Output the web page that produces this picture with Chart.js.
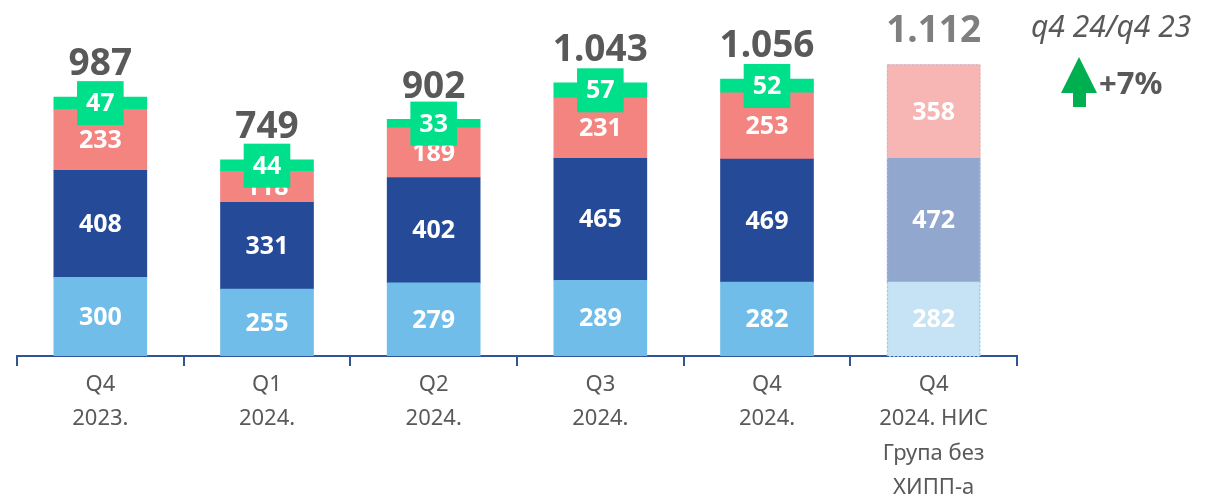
<!DOCTYPE html>
<html>
<head>
<meta charset="utf-8">
<script src="https://cdn.jsdelivr.net/npm/chart.js@4"></script>
<style>
  html, body { margin: 0; padding: 0; background: #fff; }
  #wrap { width: 1220px; height: 497px; position: relative; }
</style>
</head>
<body>
<div id="wrap"><canvas id="c"></canvas></div>
<script>
// quarters on the x axis (multi-line labels)
const categories = [
  ['Q4', '2023.'],
  ['Q1', '2024.'],
  ['Q2', '2024.'],
  ['Q3', '2024.'],
  ['Q4', '2024.'],
  ['Q4', '2024. НИС', 'Група без', 'ХИПП-а'],
];
const lightBlue = [300, 255, 279, 289, 282, 282];
const darkBlue = [408, 331, 402, 465, 469, 472];
const salmon = [233, 118, 189, 231, 253, 358];
const green = [47, 44, 33, 57, 52, null];
const totals = [987, 749, 902, 1043, 1056, 1112];
const compareLabel = 'q4 24/q4 23';
const compareValue = '+7%';

const FONT = '"Noto Sans", "Open Sans", sans-serif';
const fade = (full, pale) => categories.map((_, i) => i === categories.length - 1 ? pale : full);
const fmt = (n) => String(n).replace(/\B(?=(\d{3})+(?!\d))/g, '.');

// segment values, green badges, totals and the q4/q4 note
const labelsPlugin = {
  id: 'labels',
  afterDatasetsDraw(chart) {
    const { ctx } = chart;
    const y = chart.scales.y;
    ctx.save();
    ctx.textAlign = 'center';
    ctx.textBaseline = 'middle';

    chart.data.datasets.forEach((ds, di) => {
      const meta = chart.getDatasetMeta(di);
      meta.data.forEach((bar, i) => {
        const v = ds.data[i];
        if (v == null) return;
        const cy = (bar.y + bar.base) / 2;
        ctx.font = `bold 25px ${FONT}`;
        if (ds.badge) {
          const w = ctx.measureText(String(v)).width + 18;
          ctx.fillStyle = '#00DF8A';
          ctx.fillRect(bar.x - w / 2, cy - 22, w, 44);
        }
        ctx.fillStyle = '#fff';
        ctx.fillText(String(v), bar.x, cy + 1);
      });
    });

    // dotted outline around the last (pale) stack
    const last = categories.length - 1;
    const b0 = chart.getDatasetMeta(0).data[last];
    const top = y.getPixelForValue(totals[last]);
    ctx.strokeStyle = '#9DC3E6';
    ctx.lineWidth = 1;
    ctx.setLineDash([2, 2]);
    ctx.strokeRect(b0.x - b0.width / 2 + 0.5, top + 0.5, b0.width - 1, b0.base - top);
    ctx.setLineDash([]);

    // totals above the bars
    ctx.textBaseline = 'alphabetic';
    ctx.font = `bold 37px ${FONT}`;
    totals.forEach((t, i) => {
      const x = chart.getDatasetMeta(0).data[i].x;
      ctx.fillStyle = i === last ? '#7F7F7F' : '#595959';
      ctx.fillText(fmt(t), x, y.getPixelForValue(t) - 22);
    });

    // comparison note in the top right corner
    ctx.fillStyle = '#595959';
    ctx.font = `italic 30px ${FONT}`;
    ctx.textAlign = 'left';
    ctx.fillText(compareLabel, 1031, 37);
    ctx.font = `bold 31px ${FONT}`;
    ctx.fillText(compareValue, 1099, 94);

    ctx.fillStyle = '#00B050';
    ctx.beginPath();
    ctx.moveTo(1079, 57);
    ctx.lineTo(1097, 93);
    ctx.lineTo(1086, 93);
    ctx.lineTo(1086, 107);
    ctx.lineTo(1073, 107);
    ctx.lineTo(1073, 93);
    ctx.lineTo(1061, 93);
    ctx.closePath();
    ctx.fill();
    ctx.restore();
  },
};

new Chart(document.getElementById('c'), {
  type: 'bar',
  data: {
    labels: categories,
    datasets: [
      { data: lightBlue, backgroundColor: fade('#71BDE9', '#C5E3F5') },
      { data: darkBlue, backgroundColor: fade('#254A97', '#91A7CE') },
      { data: salmon, backgroundColor: fade('#F38480', '#F7B6B4') },
      { data: green, backgroundColor: '#00DF8A', badge: true },
    ],
  },
  options: {
    responsive: true,
    maintainAspectRatio: false,
    animation: false,
    events: [],
    layout: { padding: { left: 17, right: 203, top: 0, bottom: 0 } },
    datasets: { bar: { barThickness: 93, borderWidth: 0 } },
    plugins: { legend: { display: false }, tooltip: { enabled: false } },
    scales: {
      x: {
        stacked: true,
        border: { color: '#2F5597', width: 2 },
        grid: { offset: true, drawOnChartArea: false, drawTicks: true, tickLength: 10, color: '#2F5597', lineWidth: 2 },
        ticks: { color: '#595959', font: { family: FONT, size: 22, lineHeight: 1.55 }, padding: 2, maxRotation: 0, autoSkip: false },
        afterFit(scale) { scale.height = 141; },
      },
      y: { stacked: true, display: false, min: 0, max: 1358 },
    },
  },
  plugins: [labelsPlugin],
});
</script>
</body>
</html>
